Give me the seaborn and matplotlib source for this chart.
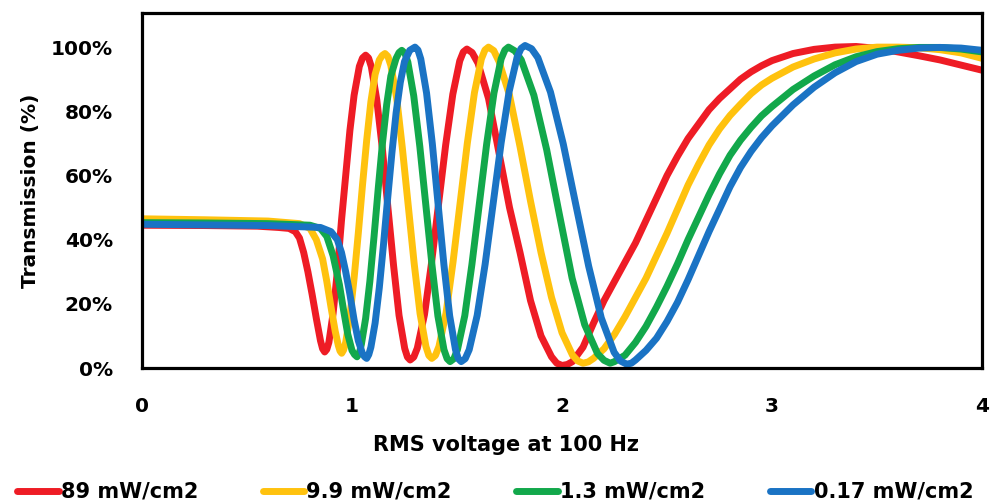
import numpy as np
import pandas as pd
import matplotlib.pyplot as plt
import seaborn as sns
from matplotlib.ticker import PercentFormatter, MultipleLocator

# =========================
# DATA
# =========================
series_names = ["89 mW/cm2", "9.9 mW/cm2", "1.3 mW/cm2", "0.17 mW/cm2"]
series_colors = ["#ee1c25", "#ffc20e", "#12a84b", "#1a73c4"]

red_v = [0.00, 0.30, 0.55, 0.65, 0.70, 0.73, 0.75, 0.77, 0.79, 0.81, 0.83, 0.85, 0.86, 0.87,
         0.88, 0.89, 0.91, 0.93, 0.95, 0.97, 0.99, 1.01, 1.035, 1.05, 1.065,
         1.079, 1.092, 1.118, 1.145, 1.171, 1.198, 1.224, 1.251, 1.264, 1.277,
         1.294, 1.311, 1.345, 1.378, 1.412, 1.446, 1.48, 1.513, 1.530, 1.547,
         1.572, 1.60, 1.65, 1.70, 1.75, 1.80, 1.85, 1.90, 1.95, 1.975, 2.00,
         2.025, 2.05, 2.10, 2.15, 2.20, 2.25, 2.30, 2.35, 2.40, 2.45, 2.50, 2.55, 2.60, 2.65,
         2.70, 2.75, 2.80, 2.85, 2.90, 2.95, 3.00, 3.10, 3.20, 3.30, 3.40, 3.50, 3.60,
         3.70, 3.80, 3.90, 4.00]
red_t = [44.5, 44.4, 44.2, 43.8, 43.5, 42.5, 40.5, 36.0, 30.0, 23.0, 15.5, 8.5, 6.0, 5.0,
         5.8, 8.0, 17.0, 30.0, 46.0, 60.0, 74.0, 85.0, 94.0, 96.6, 97.5,
         96.6, 93.9, 83.6, 68.1, 50.0, 31.9, 16.4, 6.1, 3.4, 2.5,
         3.4, 6.2, 16.6, 32.4, 51.0, 69.5, 85.3, 95.7, 98.5, 99.4,
         98.3, 95.0, 84.0, 67.0, 50.0, 36.0, 21.0, 10.0, 3.5, 1.5, 0.8,
         1.1, 2.0, 6.5, 14.0, 21.0, 27.0, 33.0, 39.0, 46.0, 53.0, 60.0, 66.0, 71.5, 76.0,
         80.5, 84.0, 87.0, 90.0, 92.3, 94.2, 95.8, 98.0, 99.3, 100.0, 100.2, 99.6, 98.5,
         97.3, 96.0, 94.4, 92.8]

yellow_v = [0.00, 0.30, 0.60, 0.75, 0.80, 0.83, 0.86, 0.88, 0.90, 0.92, 0.935, 0.943, 0.951,
            0.96, 0.97, 0.99, 1.01, 1.03, 1.05, 1.07, 1.09, 1.11, 1.13, 1.144, 1.157,
            1.171, 1.185, 1.213, 1.24, 1.268, 1.296, 1.324, 1.352, 1.366, 1.38,
            1.397, 1.414, 1.448, 1.481, 1.515, 1.549, 1.583, 1.616, 1.633, 1.65,
            1.675, 1.70, 1.75, 1.80, 1.85, 1.90, 1.95, 2.00, 2.05, 2.075, 2.10,
            2.125, 2.15, 2.20, 2.25, 2.30, 2.35, 2.40, 2.45, 2.50, 2.55, 2.60, 2.65, 2.70,
            2.75, 2.80, 2.85, 2.90, 2.95, 3.00, 3.10, 3.20, 3.30, 3.40, 3.50, 3.60,
            3.70, 3.80, 3.90, 4.00]
yellow_t = [46.5, 46.2, 45.8, 45.0, 43.5, 40.0, 34.0, 27.0, 19.0, 11.5, 7.0, 5.3, 4.6,
            5.6, 8.0, 16.0, 28.0, 42.0, 57.0, 71.0, 83.0, 91.5, 96.0, 97.4, 98.0,
            97.1, 94.3, 84.0, 68.4, 50.5, 32.6, 17.0, 6.7, 3.9, 3.0,
            3.9, 6.7, 17.2, 33.0, 51.5, 70.0, 85.8, 96.3, 99.1, 100.0,
            98.9, 95.5, 85.0, 69.0, 52.0, 36.0, 22.0, 11.0, 4.0, 2.2, 1.5,
            1.9, 3.0, 6.0, 10.5, 16.0, 22.0, 28.0, 35.0, 42.0, 49.5, 57.0, 63.5, 69.5,
            74.5, 78.7, 82.2, 85.5, 88.2, 90.3, 93.8, 96.3, 98.2, 99.4, 100.0, 100.0,
            99.8, 99.2, 98.2, 96.5]

green_v = [0.00, 0.30, 0.60, 0.80, 0.85, 0.88, 0.91, 0.94, 0.96, 0.98, 1.00, 1.012, 1.024,
           1.035, 1.045, 1.065, 1.085, 1.105, 1.125, 1.145, 1.165, 1.185, 1.21, 1.224, 1.237,
           1.252, 1.266, 1.294, 1.323, 1.352, 1.381, 1.409, 1.438, 1.453, 1.467,
           1.485, 1.502, 1.537, 1.571, 1.606, 1.641, 1.676, 1.71, 1.728, 1.745,
           1.776, 1.806, 1.866, 1.927, 1.987, 2.048, 2.108, 2.169, 2.20, 2.229,
           2.25, 2.30, 2.35, 2.40, 2.45, 2.50, 2.55, 2.60, 2.65, 2.70, 2.75, 2.80,
           2.85, 2.90, 2.95, 3.00, 3.10, 3.20, 3.30, 3.40, 3.50, 3.60, 3.70, 3.80,
           3.90, 4.00]
green_t = [45.3, 45.2, 45.0, 44.5, 43.5, 41.0, 35.0, 26.0, 18.0, 10.5, 5.5, 4.2, 3.5,
           4.6, 7.5, 15.5, 27.0, 41.0, 56.0, 70.0, 82.0, 91.0, 96.5, 98.3, 99.0,
           98.1, 95.3, 84.8, 69.0, 50.5, 32.0, 16.2, 5.7, 2.9, 2.0,
           2.9, 5.7, 16.3, 32.3, 51.0, 69.7, 85.7, 96.3, 99.1, 100.0,
           98.8, 96.0, 85.0, 68.0, 48.0, 28.0, 13.5, 4.5, 2.4, 1.5,
           2.0, 4.0, 8.0, 13.0, 19.0, 25.5, 32.5, 40.0, 47.0, 54.0, 60.5, 66.3,
           71.0, 75.0, 78.6, 81.5, 86.8, 91.0, 94.5, 97.0, 98.6, 99.5, 99.9, 99.9,
           99.4, 98.5]

blue_v = [0.00, 0.30, 0.60, 0.85, 0.90, 0.93, 0.95, 0.97, 0.99, 1.01, 1.03, 1.05, 1.06, 1.07,
          1.08, 1.09, 1.11, 1.13, 1.15, 1.17, 1.19, 1.21, 1.23, 1.25, 1.275, 1.30,
          1.314, 1.3275, 1.355, 1.3825, 1.41, 1.4375, 1.465, 1.4925, 1.506, 1.52,
          1.539, 1.558, 1.596, 1.634, 1.672, 1.71, 1.748, 1.786, 1.805, 1.824,
          1.855, 1.885, 1.945, 2.006, 2.066, 2.127, 2.187, 2.248, 2.278, 2.308,
          2.33, 2.35, 2.40, 2.45, 2.50, 2.55, 2.60, 2.65, 2.70, 2.75, 2.80, 2.85, 2.90,
          2.95, 3.00, 3.10, 3.20, 3.30, 3.40, 3.50, 3.60, 3.70, 3.80, 3.90, 4.00]
blue_t = [44.8, 44.6, 44.4, 43.8, 42.5, 40.0, 36.0, 30.0, 23.0, 15.0, 8.5, 4.5, 3.5, 3.0,
          4.2, 6.5, 14.0, 25.0, 38.5, 53.0, 67.0, 79.5, 89.0, 95.5, 99.0, 100.0,
          99.1, 96.3, 85.7, 69.9, 51.0, 32.3, 16.3, 5.8, 2.9, 2.0,
          2.9, 5.7, 16.4, 32.4, 51.2, 70.1, 86.1, 96.8, 99.6, 100.5,
          99.5, 96.7, 86.0, 69.8, 50.8, 31.7, 15.6, 4.9, 2.2, 1.2,
          1.5, 2.5, 5.5, 9.3, 14.5, 20.5, 27.5, 35.0, 42.5, 49.5, 56.5, 62.5, 67.5,
          71.8, 75.5, 82.0, 87.5, 92.0, 95.5, 97.8, 99.0, 99.7, 99.9, 99.7, 99.0]

# =========================
# BUILD LONG TABLE
# =========================
frames = []
for name, v, t in zip(series_names,
                      [red_v, yellow_v, green_v, blue_v],
                      [red_t, yellow_t, green_t, blue_t]):
    frames.append(pd.DataFrame({"voltage": v, "transmission": np.array(t) / 100, "series": name}))
df = pd.concat(frames, ignore_index=True)

# =========================
# PLOT
# =========================
sns.set_style("white")
plt.rcParams["font.family"] = ["DejaVu Sans"]
plt.rcParams["font.weight"] = "bold"
plt.rcParams["text.color"] = "black"
plt.rcParams["axes.labelcolor"] = "black"
plt.rcParams["xtick.color"] = "black"
plt.rcParams["ytick.color"] = "black"

fig = plt.figure(figsize=(9.9, 5.04), dpi=100)
ax = fig.add_axes([0.1434, 0.2698, 0.8486, 0.7042])

sns.lineplot(data=df, x="voltage", y="transmission", hue="series",
             hue_order=series_names, palette=dict(zip(series_names, series_colors)),
             sort=False, estimator=None, linewidth=5, ax=ax, legend=False,
             solid_joinstyle="round", solid_capstyle="butt")

ax.set_xlim(0, 4)
ax.set_ylim(0, 1.106)
ax.xaxis.set_major_locator(MultipleLocator(1))
ax.xaxis.set_minor_locator(MultipleLocator(0.5))
ax.yaxis.set_major_locator(MultipleLocator(0.2))
ax.yaxis.set_minor_locator(MultipleLocator(0.1))
ax.yaxis.set_major_formatter(PercentFormatter(1.0, decimals=0))
ax.set_yticks([0, 0.2, 0.4, 0.6, 0.8, 1.0])

ax.tick_params(axis="both", which="both", direction="in", length=5, width=2.2,
               color="black", labelsize=14.5, labelcolor="black")
ax.tick_params(axis="x", which="major", pad=21)
ax.tick_params(axis="y", which="major", pad=21)
for lab in ax.get_xticklabels() + ax.get_yticklabels():
    lab.set_fontweight("bold")

for side in ["left", "right", "top", "bottom"]:
    ax.spines[side].set_visible(True)
    ax.spines[side].set_color("black")
    ax.spines[side].set_linewidth(2.3)

ax.set_xlabel("RMS voltage at 100 Hz", fontsize=15, fontweight="bold", labelpad=11)
ax.xaxis.set_label_coords(0.433, -0.19)
ax.set_ylabel("Transmission (%)", fontsize=14.5, fontweight="bold", labelpad=8)

handles = [plt.Line2D([0], [0], color=c, linewidth=5) for c in series_colors]
fig.legend(handles, series_names, loc="center", bbox_to_anchor=(0.5, 0.024), ncol=4,
           frameon=False, handlelength=2.0, handletextpad=0.1, columnspacing=3.1,
           prop={"size": 15, "weight": "bold"})

fig.savefig("out.png", dpi=100, facecolor="white")
